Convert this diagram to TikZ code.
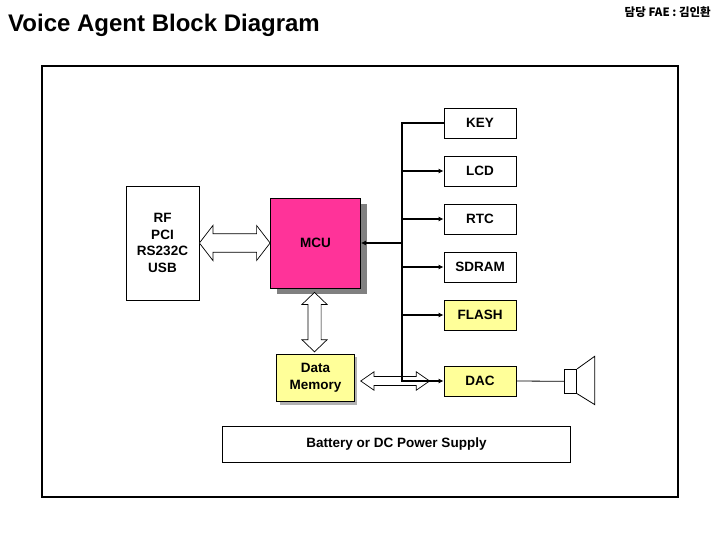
\documentclass[tikz,border=0pt]{standalone}
\usepackage{fontspec}
\setmainfont{Liberation Sans}
\newfontfamily\krfont{Noto Sans CJK KR}
\usetikzlibrary{calc,shadows,arrows.meta}
\definecolor{mcupink}{HTML}{FF3399}
\definecolor{memyellow}{HTML}{FFFF99}
\newcommand{\hdarrow}[5]{%
  \path[hollow] let \p1=(#1), \p2=(#2) in
    (\x1,\y1) -- (\x1+#3,\y1+#4) -- (\x1+#3,\y1+#5) -- (\x2-#3,\y1+#5) --
    (\x2-#3,\y1+#4) -- (\x2,\y1) -- (\x2-#3,\y1-#4) -- (\x2-#3,\y1-#5) --
    (\x1+#3,\y1-#5) -- (\x1+#3,\y1-#4) -- cycle;}
\newcommand{\vdarrow}[5]{%
  \path[hollow] let \p1=(#1), \p2=(#2) in
    (\x1,\y1) -- (\x1+#4,\y1-#3) -- (\x1+#5,\y1-#3) -- (\x1+#5,\y2+#3) --
    (\x1+#4,\y2+#3) -- (\x1,\y2) -- (\x1-#4,\y2+#3) -- (\x1-#5,\y2+#3) --
    (\x1-#5,\y1-#3) -- (\x1-#4,\y1-#3) -- cycle;}
\tikzset{
  lbl/.style={font=\fontsize{13.5}{16.5}\selectfont\bfseries},
  blk/.style={draw, line width=0.8pt, lbl, align=center, inner sep=0pt},
  devbox/.style={blk, minimum width=72pt, minimum height=30pt, fill=white},
  hollow/.style={draw, fill=white, line width=0.7pt, line join=miter},
  bus/.style={line width=2pt},
  busarrow/.style={bus, -{Latex[length=5pt,width=5pt]}},
}
\begin{document}
\begin{tikzpicture}[x=1pt,y=-1pt]
\useasboundingbox (0,0) rectangle (720,540);
% titles
\node[anchor=base west, inner sep=0pt, font=\fontsize{24}{28}\selectfont\bfseries] (title) at (8,32) {Voice Agent Block Diagram};
\node[anchor=base east, inner sep=0pt, font=\krfont\fontsize{11.5}{14}\selectfont\bfseries] (fae) at (711,17) {담당 FAE : 김인환};
% outer frame
\draw[line width=2pt] (42,66) rectangle (678,497);
% blocks
\node[blk, minimum width=73pt, minimum height=114pt] (rf) at (162.5,243) {RF\\PCI\\RS232C\\USB};
\node[blk, minimum width=90pt, minimum height=90pt, fill=mcupink,
      drop shadow={shadow xshift=6pt, shadow yshift=-6pt, fill=black!50, opacity=1}] (mcu) at (315.5,243) {MCU};
\node[blk, minimum width=77.6pt, minimum height=47.6pt, fill=memyellow,
      drop shadow={shadow xshift=3pt, shadow yshift=-3pt, fill=black!30, opacity=1}] (dm) at (315.5,378) {Data\\Memory};
\node[devbox] (key) at (480,123) {KEY};
\node[devbox] (lcd) at (480,171) {LCD};
\node[devbox] (rtc) at (480,219) {RTC};
\node[devbox] (sdram) at (480,267) {SDRAM};
\node[devbox, fill=memyellow] (flash) at (480,315) {FLASH};
\node[devbox, fill=memyellow] (dac) at (480,381) {DAC};
\node[blk, minimum width=348pt, minimum height=36pt] (pwr) at (396.5,444) {Battery or DC Power Supply};
% speaker
\node[draw, line width=0.8pt, minimum width=12.4pt, minimum height=24pt, inner sep=0pt] (spk) at (570.5,381.3) {};
\draw[line width=0.8pt] (dac.east) -- (spk.west);
\draw[line width=0.8pt] (spk.north east) -- ++(17.6,-12.6) -- ++(0,48.3) -- (spk.south east);
% hollow double arrows
\hdarrow{rf.east}{mcu.west}{13.5}{17.5}{9.2}
\vdarrow{$(mcu.south)+(-1,4)$}{$(dm.north)+(-1,-2)$}{12}{12.5}{6.6}
\coordinate (dda) at ($(dm.east |- dac.west)+(6,0)$);
\hdarrow{dda}{$(dac.west)+(-14,0)$}{13.3}{9.2}{4.5}
% bus
\coordinate (bustop) at ($(key.west)+(-42,0)$);
\draw[busarrow] (key.west) -- (bustop) -- (bustop |- dac.west) -- (dac.west);
\draw[busarrow] (bustop |- lcd.west) -- (lcd.west);
\draw[busarrow] (bustop |- rtc.west) -- (rtc.west);
\draw[busarrow] (bustop |- sdram.west) -- (sdram.west);
\draw[busarrow] (bustop |- flash.west) -- (flash.west);
\draw[busarrow] (bustop |- mcu.east) -- (mcu.east);
\end{tikzpicture}
\end{document}
